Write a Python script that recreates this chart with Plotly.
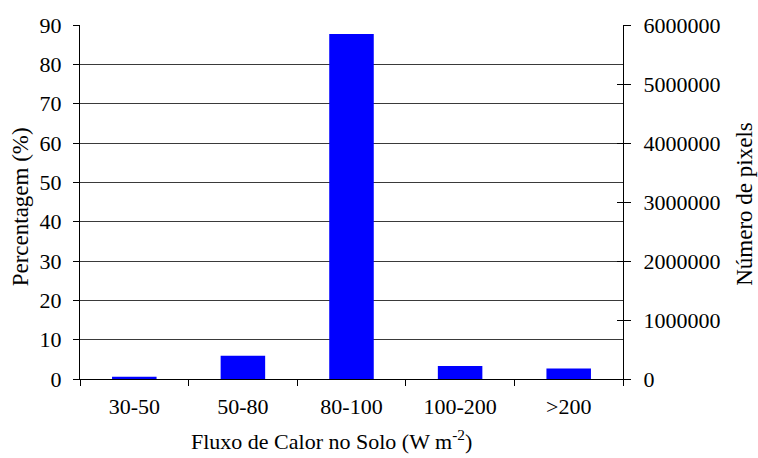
import plotly.graph_objects as go

categories = ["30-50", "50-80", "80-100", "100-200", ">200"]
percent = [0.6, 5.9, 87.7, 3.3, 2.7]
left_ticks = [0, 10, 20, 30, 40, 50, 60, 70, 80, 90]
right_ticks = [0, 1000000, 2000000, 3000000, 4000000, 5000000, 6000000]
x_title = "Fluxo de Calor no Solo (W m<sup>-2</sup>)"
y_title = "Percentagem (%)"
y2_title = "Número de pixels"

FONT = dict(family="Liberation Serif", size=22, color="black")
TFONT = dict(family="Liberation Serif", size=23, color="black")

fig = go.Figure()
fig.add_trace(go.Bar(x=categories, y=percent, marker=dict(color="#0000FF", line=dict(width=0)),
                     width=0.41, showlegend=False, hoverinfo="x+y"))
fig.add_trace(go.Bar(x=categories, y=[None] * len(categories), yaxis="y2", showlegend=False,
                     hoverinfo="skip"))
fig.add_trace(go.Bar(x=categories, y=[None] * len(categories), yaxis="y3", showlegend=False,
                     hoverinfo="skip"))

fig.update_layout(
    width=758, height=458,
    margin=dict(l=80, r=135, t=25, b=79),
    paper_bgcolor="white", plot_bgcolor="white",
    font=FONT,
    xaxis=dict(
        showline=True, linecolor="black", linewidth=1, mirror=False, automargin=False,
        ticks="outside", ticklen=6, tickcolor="black", tickson="boundaries",
        showgrid=False, tickfont=FONT, ticklabelstandoff=8,
    ),
    yaxis=dict(
        range=[0, 90], tickvals=left_ticks, showline=True, linecolor="black", linewidth=1,
        ticks="outside", ticklen=6, tickcolor="black", showgrid=True, gridcolor="#3a3a3a",
        gridwidth=1, zeroline=False, tickfont=FONT, ticklabelstandoff=7, automargin=False,
    ),
    yaxis2=dict(
        range=[0, 6000000], tickvals=right_ticks, tickformat="d", overlaying="y", side="right",
        showline=True, linecolor="black", linewidth=1, ticks="outside", ticklen=7,
        tickcolor="black", showgrid=False, zeroline=False, tickfont=FONT, ticklabelstandoff=8,
        automargin=False,
    ),
    yaxis3=dict(
        range=[0, 6000000], tickvals=right_ticks, overlaying="y", side="right",
        showline=False, ticks="inside", ticklen=6, tickcolor="black",
        showticklabels=False, showgrid=False, zeroline=False, automargin=False,
    ),
    annotations=[
        dict(text=y_title, xref="paper", yref="paper", x=0, y=0.485, xshift=-60,
             textangle=-90, showarrow=False, xanchor="center", yanchor="middle", font=TFONT),
        dict(text=y2_title, xref="paper", yref="paper", x=1, y=0.495, xshift=122,
             textangle=-90, showarrow=False, xanchor="center", yanchor="middle", font=TFONT),
        dict(text=x_title, xref="paper", yref="paper", x=0.464, y=0, yshift=-61,
             showarrow=False, xanchor="center", yanchor="middle", font=FONT),
    ],
)

fig.write_html(
    "out.html",
    config={"displayModeBar": False},
    post_script="document.body.style.margin='0';document.body.style.overflow='hidden';",
)
